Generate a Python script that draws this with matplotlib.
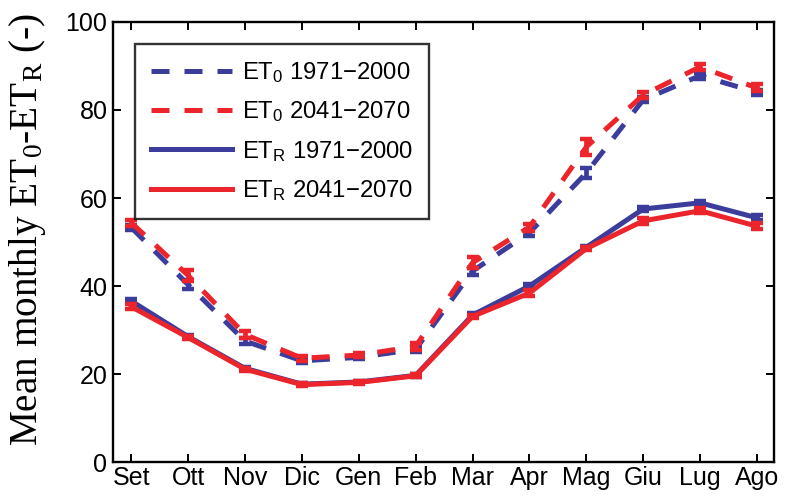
import matplotlib
matplotlib.use("Agg")
import matplotlib.pyplot as plt
import numpy as np

months = ["Set", "Ott", "Nov", "Dic", "Gen", "Feb", "Mar", "Apr", "Mag", "Giu", "Lug", "Ago"]

et0_ref = [53.3, 40.3, 27.5, 23.0, 23.8, 25.6, 43.4, 52.1, 65.7, 82.3, 87.8, 84.0]
et0_fut = [54.4, 42.4, 29.0, 23.6, 24.3, 26.3, 45.3, 53.4, 71.6, 83.4, 89.8, 85.0]
etr_ref = [36.6, 28.5, 21.3, 17.7, 18.2, 19.7, 33.4, 40.0, 48.8, 57.5, 58.9, 55.5]
etr_fut = [35.3, 28.3, 21.1, 17.6, 18.1, 19.6, 33.1, 38.4, 48.5, 54.8, 57.1, 53.6]

et0_ref_err = [0.6, 1.0, 0.6, 0.5, 0.4, 0.5, 0.8, 0.7, 1.2, 0.6, 0.7, 0.6]
et0_fut_err = [0.7, 1.3, 0.7, 0.6, 0.5, 0.8, 1.2, 0.8, 1.8, 0.7, 0.7, 0.8]
etr_ref_err = [0.5, 0.4, 0.3, 0.3, 0.3, 0.3, 0.4, 0.5, 0.4, 0.5, 0.5, 0.6]
etr_fut_err = [0.6, 0.4, 0.3, 0.4, 0.3, 0.3, 0.4, 0.7, 0.4, 0.7, 0.6, 0.7]

blue = "#3b3c9c"
red = "#ec252c"
sans = "Liberation Sans"
serif = "Liberation Serif"

fig = plt.figure(figsize=(7.85, 4.99), dpi=100)
ax = fig.add_axes([0.144, 0.074, 0.842, 0.882])

x = np.arange(len(months))
dash = (0, (3.6, 3.0))
lw = 3.6

series = [
    (et0_ref, et0_ref_err, blue, dash, "ET$\\mathregular{_0}$ 1971\u22122000"),
    (et0_fut, et0_fut_err, red, dash, "ET$\\mathregular{_0}$ 2041\u22122070"),
    (etr_ref, etr_ref_err, blue, "-", "ET$\\mathregular{_R}$ 1971\u22122000"),
    (etr_fut, etr_fut_err, red, "-", "ET$\\mathregular{_R}$ 2041\u22122070"),
]

handles = []
for vals, err, col, ls, lab in series:
    ax.errorbar(x, vals, yerr=err, fmt="none", ecolor=col, elinewidth=3.4,
                capsize=4.5, capthick=3.2, zorder=3)
    (ln,) = ax.plot(x, vals, color=col, linestyle=ls, linewidth=lw, label=lab,
                    zorder=3)
    handles.append(ln)

ax.set_xlim(-0.32, 11.3)
ax.set_ylim(0, 100)
ax.set_xticks(x)
ax.set_xticklabels(months, fontfamily=sans, fontsize=18)
ax.set_yticks(np.arange(0, 101, 20))
ax.set_yticklabels([str(v) for v in range(0, 101, 20)], fontfamily=sans, fontsize=18)
ax.tick_params(direction="in", length=6, width=1.4, top=True, right=True, pad=3)
ax.tick_params(axis="y", pad=4)
for s in ax.spines.values():
    s.set_linewidth(1.7)

ax.set_ylabel("Mean monthly ET$\\mathregular{_0}$-ET$\\mathregular{_R}$ (-)",
              fontfamily=serif, fontsize=28.3)
ax.yaxis.set_label_coords(-0.099, 0.528)

leg = ax.legend(handles=handles, loc="upper left", bbox_to_anchor=(0.033, 0.95),
                borderaxespad=0, prop={"family": sans, "size": 17.2},
                frameon=True, fancybox=False, edgecolor="black",
                handlelength=3.4, handletextpad=0.4, labelspacing=0.6,
                borderpad=0.68)
leg.get_frame().set_linewidth(1.7)

fig.savefig("out.png", dpi=100)
